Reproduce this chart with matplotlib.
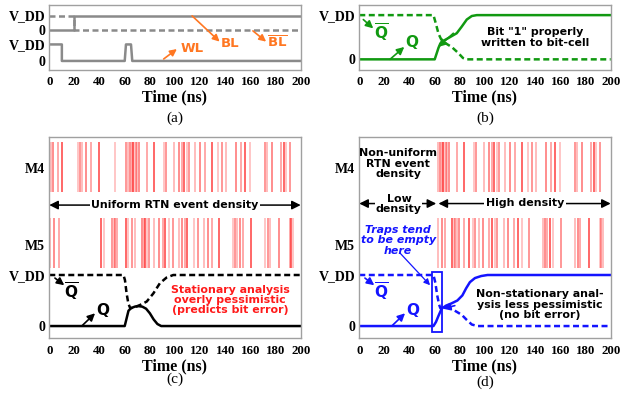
import matplotlib
matplotlib.use("Agg")
import matplotlib.pyplot as plt
from matplotlib.patches import Rectangle

# ---------------- data ----------------
time_ticks = [0, 20, 40, 60, 80, 100, 120, 140, 160, 180, 200]

# (a) control signals (logic levels 0/1)
bl_t = [0, 20, 20, 200]
bl_v = [0, 0, 1, 1]
blb_t = [0, 20, 20, 200]
blb_v = [1, 1, 0, 0]
wl_t = [0, 10, 10, 60, 61, 65, 66, 200]
wl_v = [1, 1, 0, 0, 1, 1, 0, 0]

# (b) write without RTN
q_b_t = [0, 60, 61.5, 63, 64.5, 67, 72, 77.5, 81.5, 85.5, 89.5, 93.5, 100, 200]
q_b_v = [0, 0, 0.13, 0.26, 0.36, 0.42, 0.5, 0.59, 0.74, 0.9, 0.98, 1.0, 1.0, 1.0]
qb_b_t = [0, 59, 61, 63, 65, 67, 70, 73.5, 78.5, 82.5, 85.5, 200]
qb_b_v = [1, 1, 0.8, 0.58, 0.46, 0.4, 0.34, 0.28, 0.15, 0.03, 0, 0]

# (c) stationary analysis
q_c_t = [0, 60, 61.5, 63, 65, 68, 71, 74, 77, 80, 83, 86, 89, 200]
q_c_v = [0, 0, 0.15, 0.3, 0.35, 0.38, 0.39, 0.38, 0.34, 0.25, 0.13, 0.04, 0, 0]
qb_c_t = [0, 59, 60.2, 61.5, 62.9, 64.4, 66.8, 72, 77.5, 82.8, 88, 93.3, 98.6, 200]
qb_c_v = [1, 1, 0.9, 0.64, 0.44, 0.35, 0.36, 0.41, 0.48, 0.64, 0.84, 0.95, 1, 1]

# (d) non-stationary analysis
q_d_t = [0, 59, 61, 63, 65.5, 69, 73, 78, 82, 85, 88, 92, 97, 102, 200]
q_d_v = [0, 0, 0.08, 0.2, 0.34, 0.4, 0.44, 0.5, 0.6, 0.74, 0.86, 0.94, 0.98, 1, 1]
qb_d_t = [0, 59, 60.5, 62, 63.5, 64.5, 67, 70, 74, 81.5, 85.5, 89.5, 94, 200]
qb_d_v = [1, 1, 0.85, 0.6, 0.42, 0.35, 0.37, 0.37, 0.33, 0.22, 0.12, 0.03, 0, 0]

# RTN event times (ns)
m4_events = [1.4, 2.7, 6.7, 9.8, 22.6, 24.7, 26.3, 29.4, 33.4, 39.8, 52.3,
             60.8, 62.3, 63.9, 65.5, 66.6, 67.6, 68.7, 69.8, 71.4, 77.7, 83,
             91, 92.6, 99.6, 103.2, 105.8, 107.1, 109.5, 111.1, 115.7, 120.1,
             123.6, 129.7, 134.4, 137.6, 140.3, 148.8, 152.7, 155.4, 159.9,
             171.4, 173.4, 176.9, 184.6, 186.7, 188.5, 191.7]
m5_events = [0.3, 3.5, 8, 41.4, 43.3, 49.9, 51.2, 52.5, 53.9, 61.3, 62.3,
             65.8, 68.4, 73.7, 75.1, 76.4, 77.7, 79, 83, 87, 90.4, 92.3, 95,
             98.4, 103.2, 105.8, 107.7, 109.5, 114.9, 118.3, 122.7, 126.2,
             129.7, 135, 146.1, 147.4, 149.3, 151.5, 154.1, 160.7, 171.4,
             174, 175.3, 182.8, 191.2, 192.5, 193.8]
low_density_end = 62  # traps mostly empty before this time in (d)

# ---------------- styling ----------------
SERIF = 'Liberation Serif'
SANS = 'DejaVu Sans'
GRAY = '#8a8a8a'
ORANGE = '#ff7722'
GREEN = '#119911'
BLUE = '#1414ff'
RED = '#ff1a1a'
LW = 1.8
DASH = (2.4, 1.4)

fig = plt.figure(figsize=(6.2, 3.93), dpi=100)
ax_a = fig.add_axes([0.0795, 0.822, 0.4055, 0.1654])
ax_b = fig.add_axes([0.5795, 0.822, 0.4055, 0.1654])
ax_c = fig.add_axes([0.0795, 0.1392, 0.4055, 0.513])
ax_d = fig.add_axes([0.5795, 0.1392, 0.4055, 0.513])


def style_axes(ax, yticks, ylabels, ylim):
    ax.set_xlim(0, 200)
    ax.set_ylim(*ylim)
    ax.set_xticks(time_ticks)
    ax.set_xticklabels([str(t) for t in time_ticks])
    ax.set_yticks(yticks)
    ax.set_yticklabels(ylabels)
    ax.tick_params(axis='x', length=0, pad=4.5)
    ax.tick_params(axis='y', length=0, pad=3)
    for lab in ax.get_xticklabels():
        lab.set_fontfamily(SERIF)
        lab.set_fontweight('bold')
        lab.set_fontsize(9.3)
    for lab in ax.get_yticklabels():
        lab.set_fontfamily(SERIF)
        lab.set_fontweight('bold')
        lab.set_fontsize(10)
    for sp in ax.spines.values():
        sp.set_color('#a0a0a0')
        sp.set_linewidth(1)
    ax.set_xlabel('Time (ns)', family=SERIF, weight='bold', size=11.5, labelpad=1)


def arrow(ax, tail, head, color, lw=1.2, ms=11):
    ax.annotate('', xy=head, xytext=tail,
                arrowprops=dict(arrowstyle='-|>', color=color, lw=lw,
                                mutation_scale=ms, shrinkA=0, shrinkB=0))


def label(ax, x, y, s, color, size=7.9, **kw):
    ax.text(x, y, s, color=color, family=SANS, weight='bold', size=size,
            ha='center', va='center', linespacing=1.05, **kw)


def raster(ax, events, y0, y1):
    alphas = [0.35, 0.6, 0.45, 0.8, 0.3, 0.55]
    cols = [(1.0, 0.2, 0.2, alphas[i % len(alphas)]) for i in range(len(events))]
    ax.vlines(events, y0, y1, colors=cols, linewidth=1.3)


def double_arrow(ax, x0, x1, y):
    ax.annotate('', xy=(x1, y), xytext=(x0, y),
                arrowprops=dict(arrowstyle='<|-|>', color='black', lw=1.1,
                                mutation_scale=13, shrinkA=0, shrinkB=0),
                annotation_clip=False)


# ---------------- (a) ----------------
top0, top_amp = 1.85, 0.9
ax_a.plot(wl_t, wl_v, color=GRAY, lw=LW)
ax_a.plot(bl_t, [top0 + top_amp * v for v in bl_v], color=GRAY, lw=LW)
ax_a.plot(blb_t, [top0 + top_amp * v for v in blb_v], color=GRAY, lw=LW,
          dashes=DASH)
style_axes(ax_a, [0, 1, top0, top0 + top_amp], ['0', 'V_DD', '0', 'V_DD'],
           (-0.545, 3.39))
arrow(ax_a, (91, 0.12), (101.5, 0.72), ORANGE, ms=10)
ax_a.text(104.5, 0.78, 'WL', color=ORANGE, family=SANS, weight='bold',
          size=9.5, ha='left', va='center')
arrow(ax_a, (113.6, 2.73), (135.5, 1.17), ORANGE, ms=10)
ax_a.text(136.6, 1.07, 'BL', color=ORANGE, family=SANS, weight='bold',
          size=9.5, ha='left', va='center')
arrow(ax_a, (162, 1.82), (172.5, 1.17), ORANGE, ms=10)
ax_a.text(173.5, 1.12, r'$\overline{\mathbf{BL}}$', color=ORANGE,
          size=9.5, ha='left', va='center')

# ---------------- (b) ----------------
ax_b.plot(q_b_t, q_b_v, color=GREEN, lw=LW)
ax_b.plot(qb_b_t, qb_b_v, color=GREEN, lw=LW, dashes=DASH)
style_axes(ax_b, [0, 1], ['0', 'V_DD'], (-0.24, 1.23))
arrow(ax_b, (3.2, 0.9), (11.1, 0.7), GREEN)
ax_b.text(18, 0.6, r'$\overline{\mathbf{Q}}$', color=GREEN, size=11,
          ha='center', va='center')
arrow(ax_b, (24.4, 0.0), (35.8, 0.28), GREEN)
label(ax_b, 41.5, 0.37, 'Q', GREEN, size=11)
arrow(ax_b, (74.8, 0.59), (62.8, 0.28), GREEN)
label(ax_b, 139.8, 0.49, 'Bit "1" properly\nwritten to bit-cell', 'black')

# ---------------- (c) ----------------
m4_y, m5_y = (2.63, 3.61), (1.14, 2.12)
arrow_y = 2.37
raster(ax_c, m4_events, *m4_y)
raster(ax_c, m5_events, *m5_y)
ax_c.plot(q_c_t, q_c_v, color='black', lw=LW)
ax_c.plot(qb_c_t, qb_c_v, color='black', lw=LW, dashes=DASH)
style_axes(ax_c, [0, 1, 1.59, 3.09], ['0', 'V_DD', 'M5', 'M4'], (-0.24, 3.71))
double_arrow(ax_c, 0, 200, arrow_y)
label(ax_c, 100, arrow_y, 'Uniform RTN event density', 'black',
      bbox=dict(facecolor='white', edgecolor='none', pad=1.0))
arrow(ax_c, (4.5, 0.94), (11.9, 0.8), 'black')
ax_c.text(18, 0.67, r'$\overline{\mathbf{Q}}$', color='black', size=11,
          ha='center', va='center')
arrow(ax_c, (25.8, 0.0), (36.4, 0.25), 'black')
label(ax_c, 42.7, 0.3, 'Q', 'black', size=11)
label(ax_c, 143.8, 0.51,
      'Stationary analysis\noverly pessimistic\n(predicts bit error)', RED)

# ---------------- (d) ----------------
raster(ax_d, [t for t in m4_events if t > low_density_end], *m4_y)
raster(ax_d, [t for t in m5_events if t > low_density_end], *m5_y)
ax_d.plot(q_d_t, q_d_v, color=BLUE, lw=LW)
ax_d.plot(qb_d_t, qb_d_v, color=BLUE, lw=LW, dashes=DASH)
style_axes(ax_d, [0, 1, 1.59, 3.09], ['0', 'V_DD', 'M5', 'M4'], (-0.24, 3.71))
ax_d.add_patch(Rectangle((58, -0.12), 7.5, 1.18, fill=False,
                         edgecolor=BLUE, lw=1.3))
double_arrow(ax_d, 0, 61.2, 2.4)
double_arrow(ax_d, 63, 200, 2.4)
label(ax_d, 31.5, 2.39, 'Low\ndensity', 'black',
      bbox=dict(facecolor='white', edgecolor='none', pad=0.5))
label(ax_d, 132, 2.41, 'High density', 'black',
      bbox=dict(facecolor='white', edgecolor='none', pad=1.5))
label(ax_d, 31, 3.18, 'Non-uniform\nRTN event\ndensity', 'black')
label(ax_d, 31, 1.68, 'Traps tend\nto be empty\nhere', BLUE, style='italic')
ax_d.annotate('', xy=(56.3, 0.8), xytext=(32.4, 1.43),
              arrowprops=dict(arrowstyle='-|>', color=BLUE, lw=0.9,
                              mutation_scale=9, shrinkA=0, shrinkB=0))
arrow(ax_d, (4.5, 0.94), (11.9, 0.8), BLUE)
ax_d.text(18, 0.67, r'$\overline{\mathbf{Q}}$', color=BLUE, size=11,
          ha='center', va='center')
arrow(ax_d, (25.8, 0.0), (36.4, 0.25), BLUE)
label(ax_d, 42.7, 0.3, 'Q', BLUE, size=11)
arrow(ax_d, (76, 0.4), (66.5, 0.34), BLUE)
label(ax_d, 143.7, 0.42,
      'Non-stationary anal-\nysis less pessimistic\n(no bit error)', 'black')

# panel captions
for x, y, s in [(0.282, 0.70, '(a)'), (0.782, 0.70, '(b)'),
                (0.282, 0.035, '(c)'), (0.782, 0.028, '(d)')]:
    fig.text(x, y, s, family=SERIF, size=11, ha='center', va='center')

fig.savefig('out.png', dpi=100)
